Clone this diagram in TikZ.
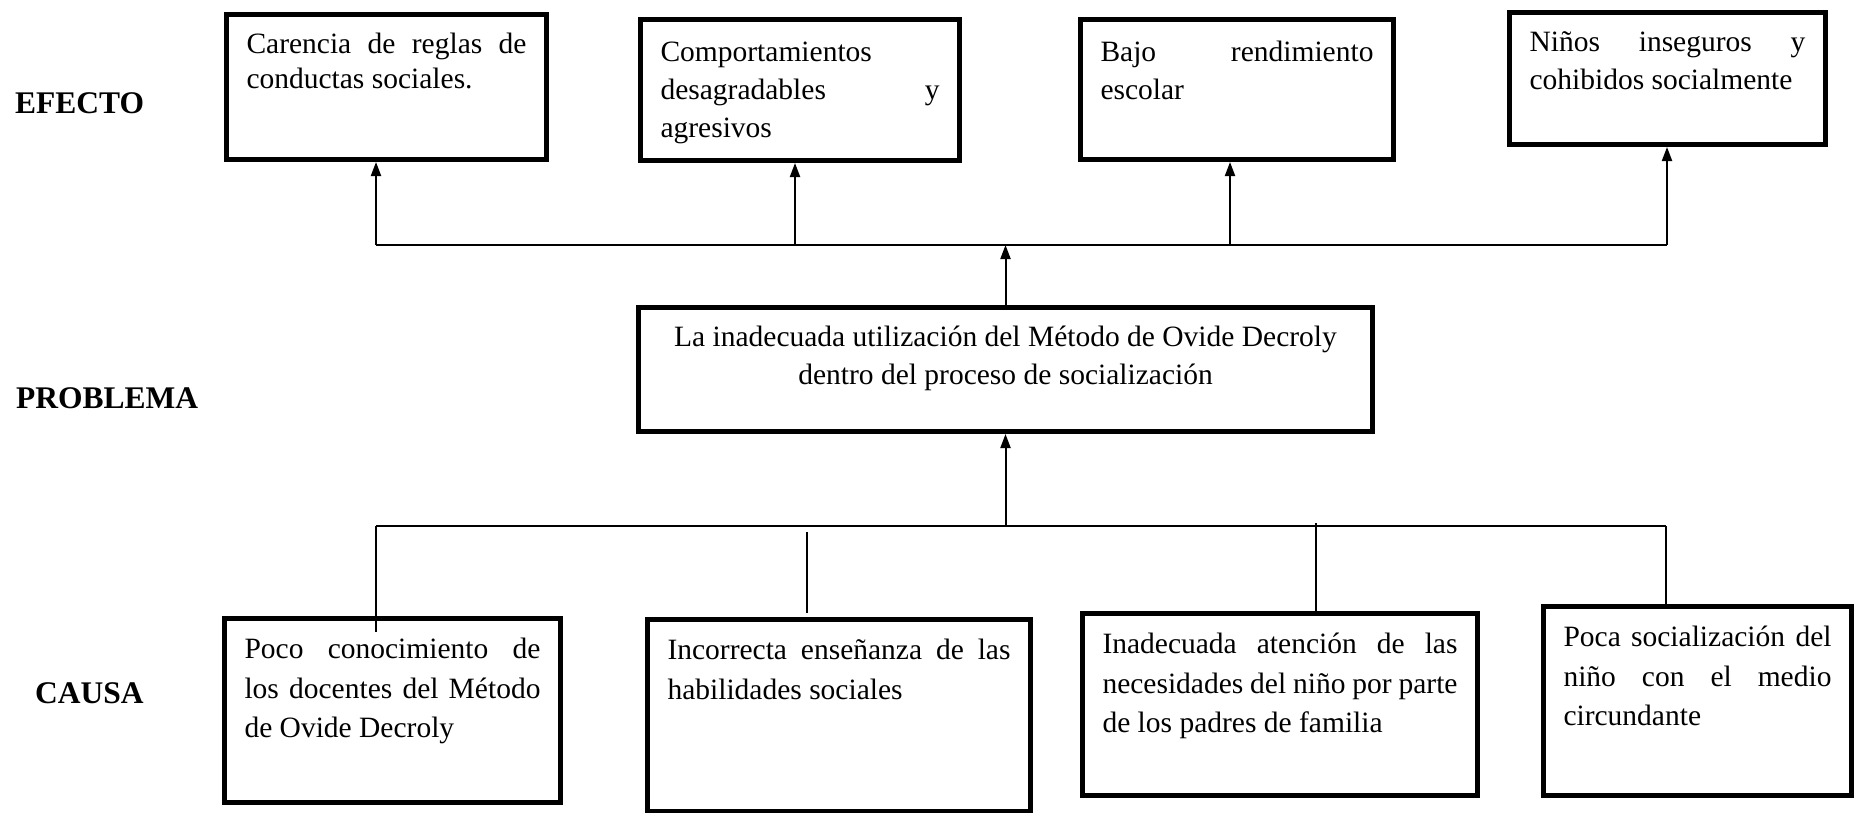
\documentclass[tikz,border=0pt]{standalone}
\usepackage{fontspec}
\setmainfont{Liberation Serif}
\usetikzlibrary{arrows.meta}
\tikzset{
  caja/.style={draw,line width=5pt,outer sep=2.5pt,inner xsep=20pt,inner ysep=12.5pt,anchor=north west,font=\fontsize{29.5}{38}\selectfont},
  cajab/.style={caja,font=\fontsize{29.5}{39.5}\selectfont},
  etiq/.style={anchor=base west,inner sep=0pt,font=\fontsize{31.5}{38}\selectfont\bfseries},
  flecha/.style={line width=2pt,-{Triangle[length=14pt,width=10pt]}},
  linea/.style={line width=2pt}
}
\newcommand{\txt}[3]{\parbox[t][#2pt][t]{#1pt}{\strut #3}}

\begin{document}
\begin{tikzpicture}[x=1pt,y=-1pt]
\useasboundingbox (0,0) rectangle (1854,812);
% etiquetas
\node[etiq] (efecto) at (15,113) {EFECTO};
\node[etiq] (problema) at (16,408) {PROBLEMA};
\node[etiq] (causa) at (35,703) {CAUSA};
% efectos
\node[caja] (b1) at (224,12) {\txt{280}{120}{Carencia\hfill de\hfill reglas\hfill de\\[-3pt] conductas sociales.}};
\node[caja,inner ysep=15.5pt] (b2) at (638,17) {\txt{279}{110}{Comportamientos\\ desagradables\hfill y\\ agresivos}};
\node[caja,inner ysep=15.5pt] (b3) at (1078,17) {\txt{273}{109}{Bajo\hfill rendimiento\\ escolar}};
\node[caja] (b4) at (1507,10) {\txt{276}{107}{Niños\hfill inseguros\hfill y\\ cohibidos socialmente}};
% problema
\node[caja] (p) at (636,305) {\txt{694}{99}{\centering La inadecuada utilización del Método de Ovide Decroly\\ dentro del proceso de socialización}};
% causas
\node[cajab] (c1) at (222,616) {\txt{296}{159}{Poco\hfill conocimiento\hfill de\\ los\hfill docentes\hfill del\hfill Método\\ de Ovide Decroly}};
\node[cajab] (c2) at (645,617) {\txt{343}{167}{Incorrecta\hfill enseñanza\hfill de\hfill las\\ habilidades sociales}};
\node[cajab] (c3) at (1080,611) {\txt{355}{157}{Inadecuada\hfill atención\hfill de\hfill las\\ necesidades\hfill del\hfill niño\hfill por\hfill parte\\ de los padres de familia}};
\node[cajab] (c4) at (1541,604) {\txt{268}{164}{Poca\hfill socialización\hfill del\\ niño\hfill con\hfill el\hfill medio\\ circundante}};
% conectores de efecto
\coordinate (e1) at (376,245); \coordinate (e2) at (795,245);
\coordinate (e3) at (1230,245); \coordinate (e4) at (1667,245);
\draw[linea] (e1) -- (e4);
\draw[flecha] (e1) -- (e1 |- b1.south);
\draw[flecha] (e2) -- (e2 |- b2.south);
\draw[flecha] (e3) -- (e3 |- b3.south);
\draw[flecha] (e4) -- (e4 |- b4.south);
\draw[flecha] (p.north) -- (p.north |- e1);
% conectores de causa
\coordinate (k1) at (376,526); \coordinate (k4) at (1666,526);
\coordinate (k1fin) at (376,632);
\coordinate (k2a) at (807,532); \coordinate (k2b) at (807,613);
\coordinate (k3) at (1316,523);
\draw[linea] (k1) -- (k4);
\draw[flecha] (p.south |- k1) -- (p.south);
\draw[linea] (k1) -- (k1fin);
\draw[linea] (k2a) -- (k2b);
\draw[linea] (k3) -- (k3 |- c3.north);
\draw[linea] (k4) -- (k4 |- c4.north);
\end{tikzpicture}
\end{document}
